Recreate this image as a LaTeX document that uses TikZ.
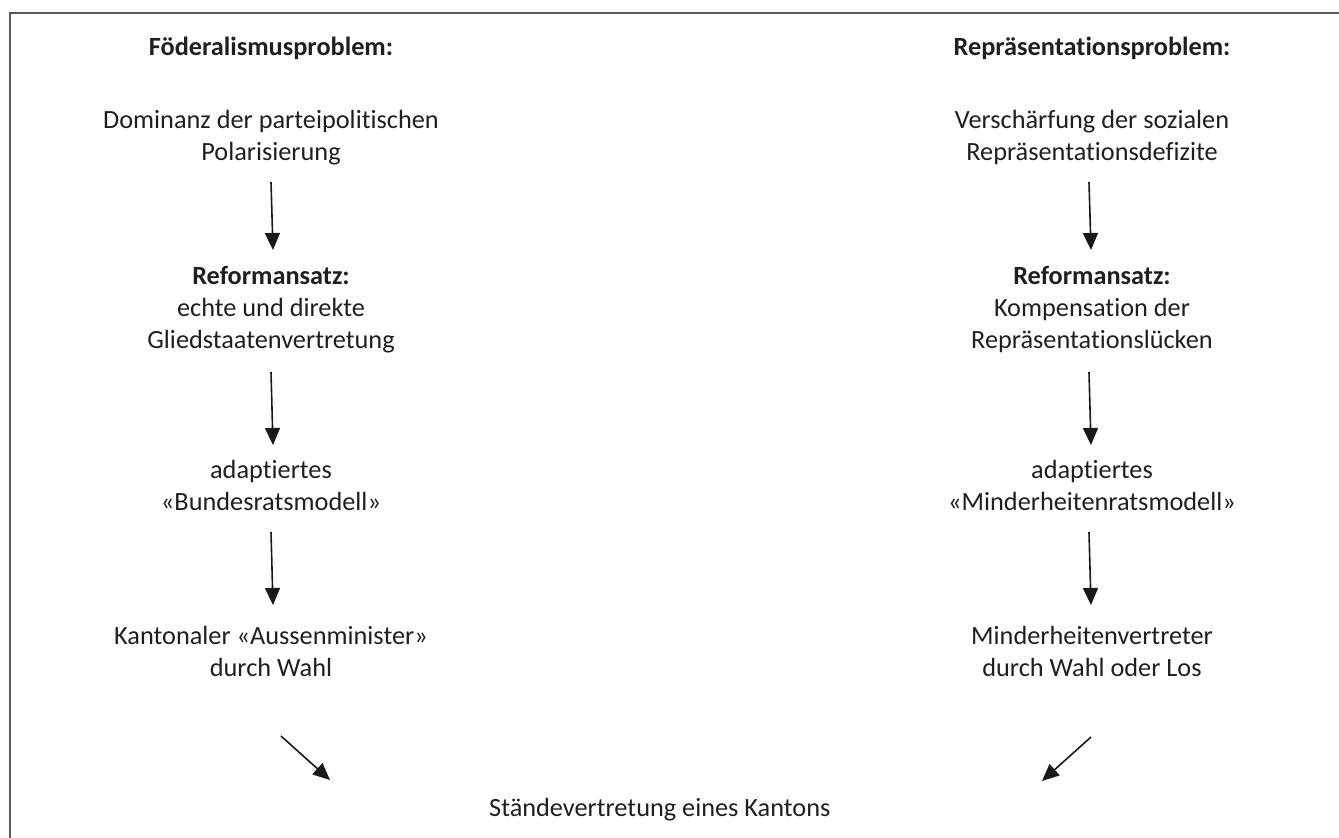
\documentclass[tikz,border=0pt]{standalone}
\usepackage{fontspec}
\setmainfont{Carlito}[Ligatures={NoCommon}]
\usetikzlibrary{arrows.meta}
\begin{document}
\begin{tikzpicture}[x=1pt,y=-1pt,
  txt/.style={font=\fontsize{26.3}{32}\selectfont, text=black!88, inner sep=0pt, align=center, anchor=base},
  hdr/.style={txt, font=\fontsize{26.3}{32}\selectfont\bfseries},
  arr/.style={line width=1.6pt, draw=black!90, -{Triangle[length=17pt,width=15pt]}},
  frame/.style={line width=2pt, draw=black!65}]
\useasboundingbox (0,0) rectangle (1339,838);
\draw[frame] (10,845) -- (10,13) -- (1345,13);
% left column (base = baseline of last line)
\node[hdr] (hL) at (271,55) {Föderalismusproblem:};
\node[txt] (l1) at (271,160) {Dominanz der parteipolitischen\\Polarisierung};
\node[txt] (l2) at (271,348) {\textbf{Reformansatz:}\\echte und direkte\\Gliedstaatenvertretung};
\node[txt] (l3) at (271,510) {adaptiertes\\«Bundesratsmodell»};
\node[txt] (l4) at (271,676) {Kantonaler «Aussenminister»\\durch Wahl};
% right column
\node[hdr] (hR) at (1092,55) {Repräsentationsproblem:};
\node[txt] (r1) at (1092,160) {Verschärfung der sozialen\\Repräsentationsdefizite};
\node[txt] (r2) at (1092,348) {\textbf{Reformansatz:}\\Kompensation der\\Repräsentationslücken};
\node[txt] (r3) at (1092,510) {adaptiertes\\«Minderheitenratsmodell»};
\node[txt] (r4) at (1092,676) {Minderheitenvertreter\\durch Wahl oder Los};
% result
\node[txt, anchor=base west] (res) at (489,816) {Ständevertretung eines Kantons};
% arrows left
\draw[arr] ([yshift=-22pt]l1.base) -- ([xshift=2pt,yshift=98pt]l2.base);
\draw[arr] ([yshift=-24pt]l2.base) -- ([xshift=2pt,yshift=65pt]l3.base);
\draw[arr] ([yshift=-22pt]l3.base) -- ([xshift=2pt,yshift=71pt]l4.base);
\draw[arr] ([xshift=10pt,yshift=-60pt]l4.base) -- ([xshift=-159pt,yshift=36pt]res.base west);
% arrows right
\draw[arr] ([xshift=-3pt,yshift=-22pt]r1.base) -- ([xshift=-1pt,yshift=98pt]r2.base);
\draw[arr] ([xshift=-3pt,yshift=-24pt]r2.base) -- ([xshift=-1pt,yshift=65pt]r3.base);
\draw[arr] ([xshift=-3pt,yshift=-22pt]r3.base) -- ([xshift=-1pt,yshift=71pt]r4.base);
\draw[arr] ([xshift=-1pt,yshift=-61pt]r4.base) -- ([xshift=553pt,yshift=35pt]res.base west);
\end{tikzpicture}
\end{document}
